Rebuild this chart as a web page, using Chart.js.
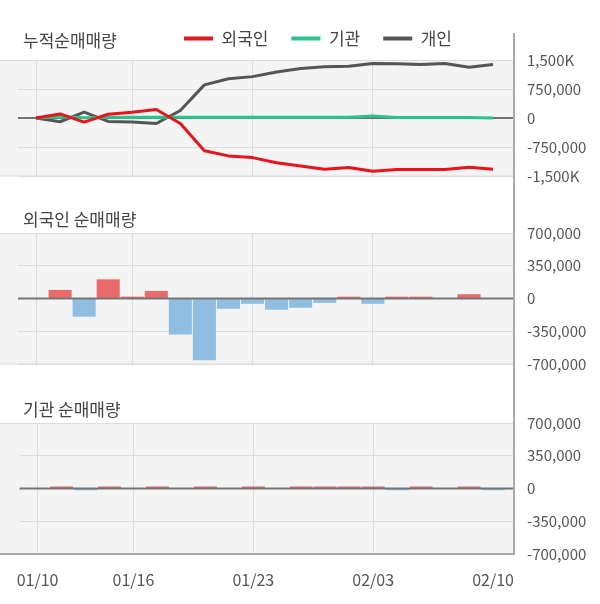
<!DOCTYPE html>
<html>
<head>
<meta charset="utf-8">
<script src="https://cdn.jsdelivr.net/npm/chart.js@4.4.0/dist/chart.umd.min.js"></script>
<style>
  body { margin: 0; width: 600px; height: 604px; position: relative; overflow: hidden; background: #fff;
         font-family: "Noto Sans CJK KR", "Noto Sans", sans-serif; }
  canvas { position: absolute; left: 0; }
  .title { position: absolute; left: 23px; font-size: 17px; line-height: 17px; color: #444; }
  .vline { position: absolute; left: 513px; top: 33px; width: 2px; height: 522px; background: #aaa; }
</style>
</head>
<body>
<canvas id="cumChart" width="600" height="199" style="top:0"></canvas>
<canvas id="foreignChart" width="600" height="187" style="top:200px"></canvas>
<canvas id="instChart" width="600" height="214" style="top:390px"></canvas>
<div class="title" style="top:31px">누적순매매량</div>
<div class="title" style="top:210px">외국인 순매매량</div>
<div class="title" style="top:400px">기관 순매매량</div>
<div class="vline"></div>
<script>
// trading days, only some get a label
const dates = ["01/10", "01/11", "01/12", "01/13", "01/16", "01/17", "01/18", "01/19", "01/20", "01/23",
  "01/30", "01/31", "02/01", "02/02", "02/03", "02/06", "02/07", "02/08", "02/09", "02/10"];
const tickIdx = [0, 4, 9, 14, 19];

// cumulative net buying
const foreignCum = [0, 106000, -106000, 97000, 150000, 220000, -141000, -847000, -980000, -1024000,
  -1156000, -1244000, -1324000, -1280000, -1377000, -1333000, -1333000, -1333000, -1271000, -1324000];
const instCum = [0, 35000, 5000, 20000, 20000, 20000, 20000, 20000, 20000, 20000,
  20000, 20000, 20000, 20000, 55000, 15000, 15000, 15000, 15000, 0];
const indivCum = [0, -97000, 150000, -88000, -106000, -141000, 194000, 856000, 1015000, 1070000,
  1191000, 1280000, 1324000, 1341000, 1412000, 1403000, 1385000, 1412000, 1315000, 1385000];

// daily net buying
const foreignNet = [0, 92000, -194000, 205000, 20000, 81000, -385000, -661000, -110000, -57000,
  -120000, -99000, -46000, 20000, -57000, 20000, 20000, 0, 46000, 0];
const instNet = [0, 22000, -18000, 22000, 0, 22000, 0, 22000, 0, 22000,
  0, 22000, 22000, 22000, 22000, -18000, 22000, 0, 22000, -18000];

const RED_BAR = "#ea6b6b";
const BLUE_BAR = "#90bee2";

Chart.defaults.font.family = '"Noto Sans CJK KR", "Noto Sans", sans-serif';
Chart.defaults.animation = false;

const toXY = arr => arr.map((v, i) => ({ x: i, y: v }));

const plotBg = {
  id: "plotBg",
  beforeDraw(chart) {
    const { ctx, chartArea: a } = chart;
    ctx.save();
    ctx.fillStyle = "#f4f4f4";
    ctx.fillRect(0, a.top, a.right, a.bottom - a.top);
    ctx.restore();
  },
  afterDraw(chart, args, opts) {
    const { ctx, chartArea: a } = chart;
    ctx.save();
    ctx.fillStyle = "#dcdcdc";
    ctx.fillRect(0, a.top, a.right, 1);
    const bw = opts.bottomWidth || 1;
    ctx.fillStyle = opts.bottomColor || "#dcdcdc";
    ctx.fillRect(0, a.bottom - bw / 2, a.right, bw);
    ctx.restore();
  }
};

function drawZero(chart) {
  const { ctx, chartArea: a, scales } = chart;
  const y = scales.y.getPixelForValue(0);
  ctx.save();
  ctx.fillStyle = "#747474";
  ctx.fillRect(a.left, y - 1, a.right - a.left, 2);
  ctx.restore();
}

const zeroLine = {
  id: "zeroLine",
  beforeDatasetsDraw(chart, args, opts) { if (opts.under) drawZero(chart); },
  afterDatasetsDraw(chart, args, opts) { if (!opts.under) drawZero(chart); }
};

const legendNudge = {
  id: "legendNudge",
  afterLayout(chart, args, opts) {
    const lg = chart.legend;
    if (!lg) return;
    lg.left += opts.dx; lg.right += opts.dx;
    lg.top += opts.dy; lg.bottom += opts.dy;
  }
};

function xAxis(showLabels) {
  return {
    type: "linear",
    min: -0.75,
    max: 19.83,
    offset: false,
    afterBuildTicks: s => { s.ticks = tickIdx.map(v => ({ value: v })); },
    afterFit: s => { s.height = showLabels ? 50 : 0; },
    grid: {
      color: c => (c.tick && c.tick.value === 19 ? "rgba(0,0,0,0)" : "#dcdcdc"),
      drawTicks: false,
      offset: false
    },
    border: { display: false },
    ticks: {
      display: showLabels, autoSkip: false, maxRotation: 0, padding: 16,
      color: "#555", font: { size: 16 },
      callback: v => dates[v]
    }
  };
}

function yAxis(lim, step, fmt) {
  return {
    position: "right",
    min: -lim,
    max: lim,
    afterFit: s => { s.width = 87; },
    grid: { color: "#dcdcdc", drawTicks: false },
    border: { display: false },
    ticks: { stepSize: step, padding: 14, color: "#555", font: { size: 15 }, callback: fmt }
  };
}

const fmtNum = v => v.toLocaleString("en-US");
const fmtCum = v => Math.abs(v) >= 1000000
  ? (v < 0 ? "-" : "") + (Math.abs(v) / 1000).toLocaleString("en-US") + "K"
  : v.toLocaleString("en-US");

const lineStyle = { borderWidth: 3, pointRadius: 0, tension: 0, borderJoinStyle: "round" };

new Chart(document.getElementById("cumChart"), {
  type: "line",
  data: {
    datasets: [
      { label: "외국인", data: toXY(foreignCum), borderColor: "#e8141b", backgroundColor: "#e8141b", ...lineStyle },
      { label: "기관", data: toXY(instCum), borderColor: "#25c68c", backgroundColor: "#25c68c", ...lineStyle },
      { label: "개인", data: toXY(indivCum), borderColor: "#555555", backgroundColor: "#555555", ...lineStyle }
    ]
  },
  options: {
    responsive: false,
    layout: { padding: { top: 10, left: 18, right: 0, bottom: 23 } },
    scales: { x: xAxis(false), y: yAxis(1500000, 750000, fmtCum) },
    plugins: {
      legend: {
        position: "top",
        labels: {
          boxWidth: 29, boxHeight: 4, padding: 23, color: "#444", font: { size: 17 },
          generateLabels: chart => Chart.defaults.plugins.legend.labels.generateLabels(chart)
            .map(l => ({ ...l, lineWidth: 0 }))
        }
      },
      tooltip: { enabled: false },
      legendNudge: { dx: 9, dy: -3 },
      zeroLine: { under: true },
      plotBg: {}
    }
  },
  plugins: [plotBg, zeroLine, legendNudge]
});

function barChart(id, values, showLabels, bottomOpts) {
  new Chart(document.getElementById(id), {
    type: "bar",
    data: {
      datasets: [{
        data: toXY(values),
        backgroundColor: values.map(v => (v >= 0 ? RED_BAR : BLUE_BAR)),
        barPercentage: 1,
        categoryPercentage: 0.96
      }]
    },
    options: {
      responsive: false,
      layout: { padding: { top: 33, left: 18, right: 0, bottom: showLabels ? 0 : 23 } },
      scales: { x: xAxis(showLabels), y: yAxis(700000, 350000, fmtNum) },
      plugins: {
        legend: { display: false },
        tooltip: { enabled: false },
        zeroLine: { under: false },
        plotBg: bottomOpts
      }
    },
    plugins: [plotBg, zeroLine]
  });
}

barChart("foreignChart", foreignNet, false, {});
barChart("instChart", instNet, true, { bottomColor: "#a8a8a8", bottomWidth: 2 });
</script>
</body>
</html>
